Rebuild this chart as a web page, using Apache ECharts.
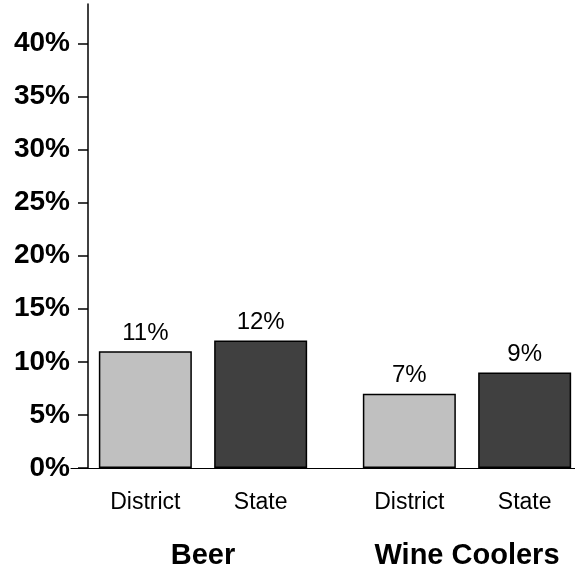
<!DOCTYPE html>
<html>
<head>
<meta charset="utf-8">
<script src="https://cdn.jsdelivr.net/npm/echarts@6/dist/echarts.min.js"></script>
<style>
html,body{margin:0;padding:0;background:#fff;}
#chart{width:575px;height:575px;}
</style>
</head>
<body>
<div id="chart"></div>
<script>
const groups = ['Beer', 'Wine Coolers'];
const seriesNames = ['District', 'State'];
const districtValues = [11, 7];
const stateValues = [12, 9];
const yTickValues = [0, 5, 10, 15, 20, 25, 30, 35, 40];
const yMax = 43.7;

const FONT = 'Arial, "Liberation Sans", sans-serif';
const colors = ['#c0c0c0', '#404040'];
const valuesBySeries = [districtValues, stateValues];

const series = [];
seriesNames.forEach(function (name, i) {
  // zero-height helper bar carrying the sub-category label under the axis
  series.push({
    name: name + ' label',
    type: 'bar',
    stack: name,
    barWidth: 93,
    barGap: '24%',
    data: valuesBySeries[i].map(function () { return 0; }),
    itemStyle: { color: 'rgba(0,0,0,0)', borderWidth: 0 },
    label: {
      show: true,
      position: 'bottom',
      distance: 23,
      formatter: name,
      color: '#000',
      fontFamily: FONT,
      fontSize: 23
    },
    silent: true
  });
  series.push({
    name: name,
    type: 'bar',
    stack: name,
    barWidth: 93,
    barGap: '24%',
    data: valuesBySeries[i],
    itemStyle: { color: colors[i], borderColor: '#000', borderWidth: 1.5 },
    label: {
      show: true,
      position: 'top',
      distance: 6,
      formatter: function (p) { return p.value + '%'; },
      color: '#000',
      fontFamily: FONT,
      fontSize: 24
    }
  });
});

const chart = echarts.init(document.getElementById('chart'), null, { renderer: 'canvas' });
chart.setOption({
  animation: false,
  backgroundColor: '#fff',
  grid: { left: 71, right: -24, top: 4, bottom: 107, containLabel: false, outerBoundsMode: 'none' },
  xAxis: {
    type: 'category',
    data: groups,
    axisLine: { show: true, lineStyle: { color: '#000', width: 1 } },
    axisTick: { show: false },
    axisLabel: {
      margin: 73,
      color: '#000',
      fontFamily: FONT,
      fontWeight: 'bold',
      fontSize: 29
    }
  },
  yAxis: {
    type: 'value',
    min: 0,
    max: yMax,
    interval: 5,
    offset: -17,
    splitLine: { show: false },
    axisLine: { show: true, lineStyle: { color: '#000', width: 1.5 } },
    axisTick: { show: true, length: 10, customValues: yTickValues, lineStyle: { color: '#000', width: 1.5 } },
    axisLabel: {
      customValues: yTickValues,
      margin: 18,
      color: '#000',
      fontFamily: FONT,
      fontWeight: 'bold',
      fontSize: 28,
      formatter: function (v) { return v + '%'; }
    }
  },
  series: series
});
</script>
</body>
</html>
